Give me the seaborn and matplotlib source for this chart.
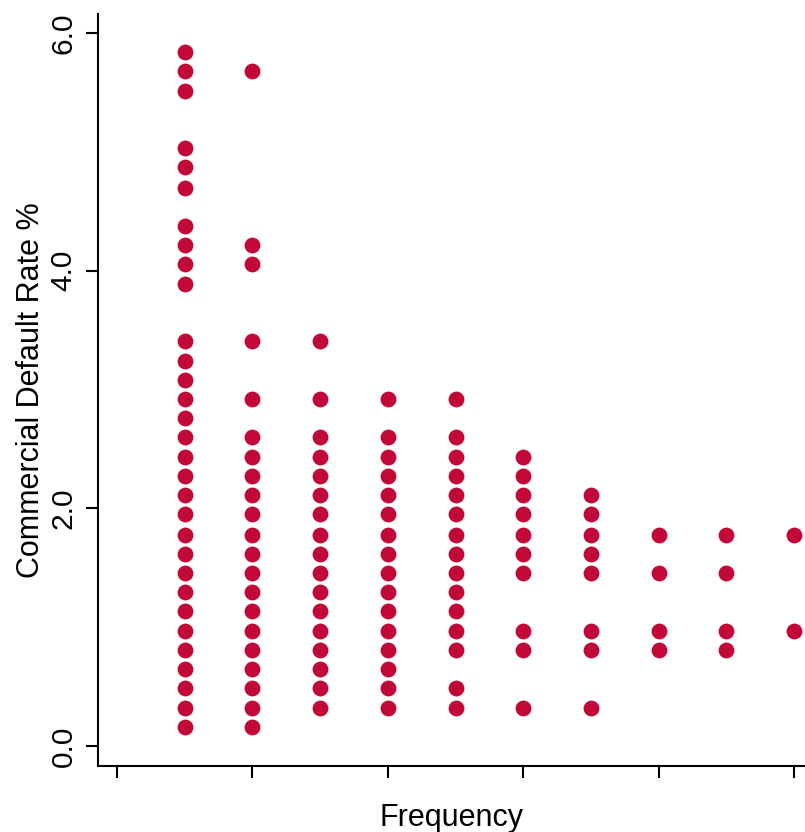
import matplotlib
matplotlib.use("Agg")
import matplotlib.pyplot as plt
import seaborn as sns
import pandas as pd

# Frequency columns and the default rates (%) observed at each
freq_1 = [0.16, 0.32, 0.49, 0.65, 0.81, 0.97, 1.14, 1.30, 1.46, 1.62, 1.78, 1.95, 2.11, 2.27,
          2.43, 2.60, 2.76, 2.92, 3.08, 3.24, 3.41, 3.89, 4.06, 4.22, 4.38, 4.70, 4.87, 5.03,
          5.51, 5.68, 5.84]
freq_2 = [0.16, 0.32, 0.49, 0.65, 0.81, 0.97, 1.14, 1.30, 1.46, 1.62, 1.78, 1.95, 2.11, 2.27,
          2.43, 2.60, 2.92, 3.41, 4.06, 4.22, 5.68]
freq_3 = [0.32, 0.49, 0.65, 0.81, 0.97, 1.14, 1.30, 1.46, 1.62, 1.78, 1.95, 2.11, 2.27,
          2.43, 2.60, 2.92, 3.41]
freq_4 = [0.32, 0.49, 0.65, 0.81, 0.97, 1.14, 1.30, 1.46, 1.62, 1.78, 1.95, 2.11, 2.27,
          2.43, 2.60, 2.92]
freq_5 = [0.32, 0.49, 0.81, 0.97, 1.14, 1.30, 1.46, 1.62, 1.78, 1.95, 2.11, 2.27,
          2.43, 2.60, 2.92]
freq_6 = [0.32, 0.81, 0.97, 1.46, 1.62, 1.78, 1.95, 2.11, 2.27, 2.43]
freq_7 = [0.32, 0.81, 0.97, 1.46, 1.62, 1.78, 1.95, 2.11]
freq_8 = [0.81, 0.97, 1.46, 1.78]
freq_9 = [0.81, 0.97, 1.46, 1.78]
freq_10 = [0.97, 1.78]

columns = {1: freq_1, 2: freq_2, 3: freq_3, 4: freq_4, 5: freq_5,
           6: freq_6, 7: freq_7, 8: freq_8, 9: freq_9, 10: freq_10}

x_ticks = [0, 2, 4, 6, 8, 10]
y_ticks = [0.0, 2.0, 4.0, 6.0]
y_tick_labels = ["0.0", "2.0", "4.0", "6.0"]

rows = []
for f, vals in columns.items():
    for v in vals:
        rows.append({"Frequency": f, "Rate": v})
df = pd.DataFrame(rows)

sns.set_theme(style="white")
plt.rcParams['font.family'] = ['Liberation Sans', 'DejaVu Sans']

fig = plt.figure(figsize=(8.05, 8.32), dpi=100)
ax = fig.add_axes([98 / 805, 66 / 832, 1 - 98 / 805, (766 - 14) / 832])

sns.scatterplot(data=df, x="Frequency", y="Rate", ax=ax, color="#C20836",
                s=130, linewidth=0, legend=False)

ax.set_xlim(-0.28, 10.16)
ax.set_ylim(-0.168, 6.16)
ax.set_xticks(x_ticks)
ax.set_xticklabels([""] * len(x_ticks))
ax.set_yticks(y_ticks)
ax.set_yticklabels(y_tick_labels, rotation=90, va="center", fontsize=21.5)

for side in ["top", "right"]:
    ax.spines[side].set_visible(False)
for side in ["left", "bottom"]:
    ax.spines[side].set_linewidth(1.5)
    ax.spines[side].set_color("black")

ax.tick_params(axis="both", which="both", direction="out", length=8.5, width=1.5,
               color="black", left=True, bottom=True, labelcolor="black", pad=6)

ax.set_xlabel("Frequency", fontsize=22, labelpad=12, color="black")
ax.set_ylabel("Commercial Default Rate %", fontsize=22, labelpad=3, color="black")

fig.savefig("out.png", dpi=100)
